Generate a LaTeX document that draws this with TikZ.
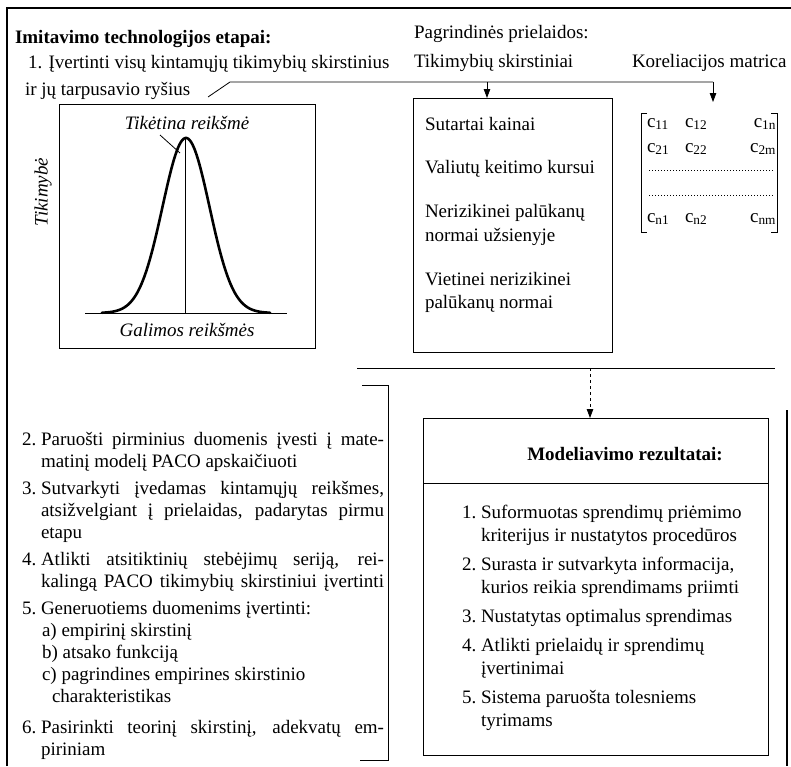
\documentclass[tikz,border=0pt]{standalone}
\usepackage{fontspec}
\usepackage{graphicx}
\setmainfont{Liberation Serif}
\usetikzlibrary{arrows.meta}
\newcommand{\myfs}{\fontsize{19}{22}\selectfont}
\newsavebox{\jbox}
\newcommand{\justline}[1]{\sbox{\jbox}{#1}\ifdim\wd\jbox>343pt\relax\resizebox{343pt}{\height}{\usebox{\jbox}}\else\makebox[343pt][s]{#1}\fi}
\begin{document}
\begin{tikzpicture}[x=1pt,y=-1pt,
  every node/.style={inner sep=0pt, outer sep=0pt, font=\myfs},
  frameline/.style={line width=1.1pt},
  boxline/.style={line width=0.9pt},
  thinline/.style={line width=0.8pt},
  arr/.style={-{Triangle[length=9pt,width=6.5pt]}, line width=0.8pt},
  txt/.style={anchor=base west, align=left},
]
\useasboundingbox (0,0) rectangle (791,766);
% outer frame
\coordinate (fTL) at (7,8);
\coordinate (fTR) at (791,8);
\coordinate (fBL) at (7,766);
\draw[frameline] (fBL) -- (fTL) -- (fTR);
\coordinate (fR1) at (787,410);
\coordinate (fR2) at (787,766);
\draw[frameline] (fR1) -- (fR2);

% header texts
\node[txt] (title) at (15,43) {\bfseries Imitavimo technologijos etapai:};
\node[txt] (step1a) at (28,68) {1. Įvertinti visų kintamųjų tikimybių skirstinius};
\node[txt] (step1b) at (25,95) {ir jų tarpusavio ryšius};
\node[txt] (prem) at (414,38) {Pagrindinės prielaidos:};
\node[txt] (dist) at (414,67) {Tikimybių skirstiniai};
\node[txt] (corr) at (632,67) {Koreliacijos matrica};

% connector line with slash
\coordinate (sl1) at (208,97);
\coordinate (sl2) at (230,82);
\coordinate (lineR) at (713,82);
\coordinate (a1) at (487,82);
\draw[thinline] (sl1) -- (sl2) -- (lineR);

% assumptions box
\node[draw, boxline, anchor=north west, minimum width=199pt, minimum height=254pt] (sbox) at (413,98) {};
\draw[arr] (a1) -- (a1 |- sbox.north);
\node[txt] (s1) at (425,130) {Sutartai kainai};
\node[txt] (s2) at (425,173) {Valiutų keitimo kursui};
\node[txt, font=\fontsize{19}{24}\selectfont] (s3) at (425,217) {\begin{tabular}[t]{@{}l@{}}Nerizikinei palūkanų\\normai užsienyje\end{tabular}};
\node[txt, font=\fontsize{19}{23.5}\selectfont] (s4) at (425,285) {\begin{tabular}[t]{@{}l@{}}Vietinei nerizikinei\\palūkanų normai\end{tabular}};

% correlation matrix
\coordinate (mtop) at (713,102);
\draw[arr] (lineR) -- (mtop);
\draw[thinline] (647,113) -- (641,113) -- (641,232) -- (647,232);
\draw[thinline] (771,113) -- (777,113) -- (777,232) -- (771,232);
\node[txt] (c11) at (647,127) {c\textsubscript{11}};
\node[txt] (c12) at (685,127) {c\textsubscript{12}};
\node[anchor=base east] (c1n) at (776,127) {c\textsubscript{1n}};
\node[txt] (c21) at (647,152) {c\textsubscript{21}};
\node[txt] (c22) at (685,152) {c\textsubscript{22}};
\node[anchor=base east] (c2m) at (776,152) {c\textsubscript{2m}};
\draw[line width=0.9pt, dash pattern=on 1pt off 2pt] (649,170) -- (773,170);
\draw[line width=0.9pt, dash pattern=on 1pt off 2pt] (649,195) -- (773,195);
\node[txt] (cn1) at (647,222) {c\textsubscript{n1}};
\node[txt] (cn2) at (685,222) {c\textsubscript{n2}};
\node[anchor=base east] (cnm) at (776,222) {c\textsubscript{nm}};

% distribution chart
\node[draw, boxline, anchor=north west, minimum width=256pt, minimum height=244pt] (chart) at (59,104) {};
\draw[thinline] (85,313) -- (287,313);
\draw[line width=2.6pt, line cap=round] plot[domain=102:270, samples=120, smooth] (\x, {313-175*exp(-1*(\x-186)*(\x-186)/1104.5)});
\draw[thinline] (185,139) -- (185,313);
\node[anchor=base] (expv) at (187,129) {\itshape Tikėtina reikšmė};
\coordinate (ld1) at (160,135);
\coordinate (ld2) at (180,153);
\draw[thinline] (ld1) -- (ld2);
\node[anchor=base] (poss) at (187,336) {\itshape Galimos reikšmės};
\node[rotate=90] (prob) at (43,192) {\itshape Tikimybė};

% separator and dashed arrow
\coordinate (sepL) at (357,368);
\coordinate (sepR) at (775,368);
\draw[thinline] (sepL) -- (sepR);
\coordinate (sepA) at (590,368);

% steps bracket
\draw[thinline] (362,385) -- (388,385) -- (388,760) -- (360,760);
\node[txt] (steps) at (22,445) {\begin{tabular}[t]{@{}l@{\ }l@{}}
2. & \justline{Paruošti pirminius duomenis įvesti į mate-}\\
 & matinį modelį PACO apskaičiuoti\\[5.5pt]
3. & \justline{Sutvarkyti įvedamas kintamųjų reikšmes,}\\
 & \justline{atsižvelgiant į prielaidas, padarytas pirmu}\\
 & etapu\\[5pt]
4. & \justline{Atlikti atsitiktinių stebėjimų seriją, rei-}\\
 & \justline{kalingą PACO tikimybių skirstiniui įvertinti}\\[5pt]
5. & Generuotiems duomenims įvertinti:\\
 & \hspace{1pt}a) empirinį skirstinį\\
 & \hspace{1pt}b) atsako funkciją\\
 & \hspace{1pt}c) pagrindines empirines skirstinio\\
 & \hspace{11pt}charakteristikas\\[9pt]
6. & \justline{Pasirinkti teorinį skirstinį, adekvatų em-}\\
 & piriniam
\end{tabular}};

% results box
\node[draw, boxline, anchor=north west, minimum width=345pt, minimum height=337pt] (res) at (423,418) {};
\draw[arr, dashed] (sepA) -- (sepA |- res.north);
\coordinate (divL) at (423,483);
\coordinate (divR) at (768,483);
\draw[boxline] (divL) -- (divR);
\node[anchor=base] (restitle) at (625,460) {\bfseries Modeliavimo rezultatai:};
\node[txt, font=\fontsize{19}{23}\selectfont] (reslist) at (462,518) {\begin{tabular}[t]{@{}l@{\ }l@{}}
1. & Suformuotas sprendimų priėmimo\\
 & kriterijus ir nustatytos procedūros\\[6pt]
2. & Surasta ir sutvarkyta informacija,\\
 & kurios reikia sprendimams priimti\\[6pt]
3. & Nustatytas optimalus sprendimas\\[6pt]
4. & Atlikti prielaidų ir sprendimų\\
 & įvertinimai\\[6pt]
5. & Sistema paruošta tolesniems\\
 & tyrimams
\end{tabular}};
\end{tikzpicture}
\end{document}
